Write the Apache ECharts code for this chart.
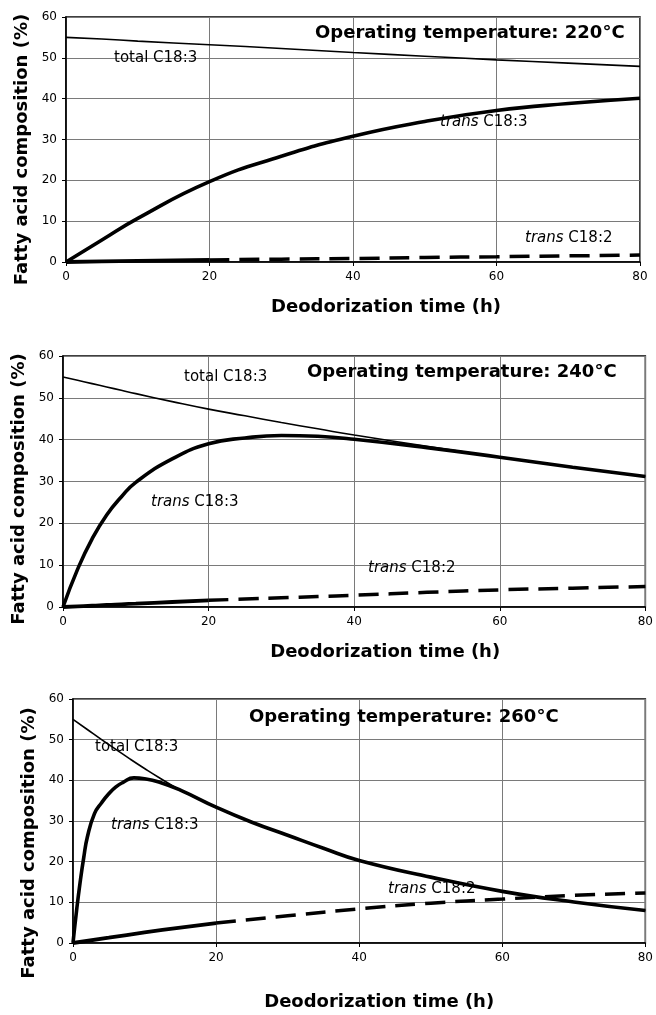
<!DOCTYPE html>
<html>
<head>
<meta charset="utf-8">
<script src="https://cdn.jsdelivr.net/npm/echarts@6/dist/echarts.min.js"></script>
<style>
  html, body { margin: 0; padding: 0; background: #fff; }
  #chart { width: 656px; height: 1015px; }
</style>
</head>
<body>
<div id="chart"></div>
<script>
// ---- data ----
const xTicks = [0, 20, 40, 60, 80];
const yTicks = [0, 10, 20, 30, 40, 50, 60];
const temps = ['220', '240', '260'];

// 220 °C
const hours220 = [0, 5, 10, 20, 30, 40, 50, 60, 70, 80];
const total183_220 = [55, 54.6, 54.1, 53.2, 52.3, 51.3, 50.4, 49.5, 48.7, 47.9];
const trans183_220 = [0, 5.4, 10.7, 19.7, 25.9, 30.8, 34.4, 37.1, 38.8, 40.1];
const trans182_220 = [0, 0.15, 0.3, 0.5, 0.7, 0.85, 1.1, 1.3, 1.5, 1.7];

// 240 °C
const hours240 = [0, 2, 4, 6, 8, 10, 15, 20, 25, 30, 35, 40, 50, 60, 70, 80];
const total183_240 = [55, 54.2, 53.4, 52.6, 51.8, 51.0, 49.1, 47.3, 45.7, 44.1, 42.6, 41.1, 38.4, 35.8, 33.4, 31.2];
const trans183_240 = [0, 9, 16.3, 22, 26.3, 29.8, 35.4, 39, 40.4, 41, 40.8, 40.1, 38.1, 35.8, 33.4, 31.2];
const trans182_240 = [0, 0.15, 0.3, 0.5, 0.65, 0.8, 1.2, 1.6, 1.9, 2.2, 2.5, 2.8, 3.5, 4.1, 4.5, 4.9];

// 260 °C
const hoursTotal260 = [0, 2, 4, 6, 8, 10, 12, 15, 20, 25, 30, 35, 40, 50, 60, 70, 80];
const total183_260 = [55, 52.5, 50, 47.6, 45.2, 42.9, 40.7, 37.6, 33.4, 29.7, 26.5, 23.3, 20.3, 16.2, 12.7, 10.1, 8];
const hoursTrans260 = [0, 0.5, 1, 1.5, 2, 3, 4, 5, 6, 7, 8.5, 10, 12, 15, 20, 25, 30, 35, 40, 50, 60, 70, 80];
const trans183_260 = [0, 8, 15, 21, 26, 31.8, 34.5, 36.7, 38.4, 39.5, 40.6, 40.4, 39.6, 37.6, 33.4, 29.7, 26.5, 23.3, 20.3, 16.2, 12.7, 10.1, 8];
const hours182_260 = [0, 5, 10, 15, 20, 30, 40, 50, 60, 70, 80];
const trans182_260 = [0, 1.3, 2.6, 3.8, 4.9, 6.7, 8.4, 9.8, 10.8, 11.7, 12.3];

const pairs = (xs, ys) => xs.map((x, i) => [x, ys[i]]);

const panelData = [
  { total: pairs(hours220, total183_220), t183: pairs(hours220, trans183_220), t182: pairs(hours220, trans182_220) },
  { total: pairs(hours240, total183_240), t183: pairs(hours240, trans183_240), t182: pairs(hours240, trans182_240) },
  { total: pairs(hoursTotal260, total183_260), t183: pairs(hoursTrans260, trans183_260), t182: pairs(hours182_260, trans182_260) }
];

// ---- layout ----
const FONT = 'DejaVu Sans';
const layout = [
  { grid: { left: 66, top: 17, width: 574, height: 245 }, xGap: 36, xPad: 66, yGap: 34, yPad: 20,
    title: [315, 33], total: [114, 58], t183: [440, 122], t182: [525, 238] },
  { grid: { left: 63, top: 356, width: 583, height: 251 }, xGap: 36, xPad: 62, yGap: 31, yPad: 15,
    title: [307, 372], total: [184, 377], t183: [151, 502], t182: [368, 568] },
  { grid: { left: 73, top: 699, width: 574, height: 244 }, xGap: 50, xPad: 40, yGap: 32, yPad: 44,
    title: [249, 717], total: [95, 747], t183: [111, 825], t182: [388, 889] }
];

const grids = [], xAxes = [], yAxes = [], series = [], graphics = [];

layout.forEach((L, i) => {
  grids.push(Object.assign({ show: true, borderColor: '#000', borderWidth: 1.5, backgroundColor: '#fff' }, L.grid));
  xAxes.push({
    type: 'value', gridIndex: i, min: xTicks[0], max: xTicks[xTicks.length - 1], interval: 20,
    name: 'Deodorization time (h)', nameLocation: 'middle', nameGap: L.xGap,
    nameTextStyle: { fontFamily: FONT, fontWeight: 'bold', fontSize: 18, color: '#000', padding: [0, 0, 0, L.xPad] },
    axisLine: { lineStyle: { color: '#000', width: 1.5 } },
    axisTick: { show: true, length: 4, lineStyle: { color: '#000' } },
    axisLabel: { fontFamily: FONT, fontSize: 12, color: '#000', margin: 9 },
    splitLine: { show: true, lineStyle: { color: '#7a7a7a', width: 1 } }
  });
  yAxes.push({
    type: 'value', gridIndex: i, min: yTicks[0], max: yTicks[yTicks.length - 1], interval: 10,
    name: 'Fatty acid composition (%)', nameLocation: 'middle', nameGap: L.yGap,
    nameTextStyle: { fontFamily: FONT, fontWeight: 'bold', fontSize: 18, color: '#000', padding: [0, L.yPad, 0, 0] },
    axisLine: { lineStyle: { color: '#000', width: 1.5 } },
    axisTick: { show: true, length: 4, lineStyle: { color: '#000' } },
    axisLabel: { fontFamily: FONT, fontSize: 12, color: '#000', margin: 9 },
    splitLine: { show: true, lineStyle: { color: '#7a7a7a', width: 1 } }
  });

  const d = panelData[i];
  const base = { type: 'line', xAxisIndex: i, yAxisIndex: i, showSymbol: false, symbol: 'none',
                 smooth: 0.5, animation: false };
  series.push(Object.assign({}, base, { name: 'total C18:3', data: d.total, z: 2,
    lineStyle: { color: '#000', width: 1.6 } }));
  series.push(Object.assign({}, base, { name: 'trans C18:2 (solid)', data: d.t182.filter(p => p[0] <= 20), z: 3,
    lineStyle: { color: '#000', width: 3.8 } }));
  series.push(Object.assign({}, base, { name: 'trans C18:2', data: d.t182.filter(p => p[0] >= 20), z: 3,
    lineStyle: { color: '#000', width: 3.5, type: [20, 10] } }));
  series.push(Object.assign({}, base, { name: 'trans C18:3', data: d.t183, z: 4,
    lineStyle: { color: '#000', width: 3.6 } }));

  graphics.push({ type: 'text', x: L.title[0], y: L.title[1], z: 10,
    style: { text: 'Operating temperature: ' + temps[i] + '°C', font: 'bold 18px "' + FONT + '"', fill: '#000', verticalAlign: 'middle' } });
  graphics.push({ type: 'text', x: L.total[0], y: L.total[1], z: 10,
    style: { text: 'total C18:3', font: '15px "' + FONT + '"', fill: '#000', verticalAlign: 'middle' } });
  [['t183', 'C18:3'], ['t182', 'C18:2']].forEach(([k, t]) => {
    graphics.push({ type: 'text', x: L[k][0], y: L[k][1], z: 10,
      style: { text: '{i|trans} ' + t, font: '15px "' + FONT + '"', fill: '#000', verticalAlign: 'middle',
        rich: { i: { fontStyle: 'italic', fontFamily: FONT, fontSize: 15, fill: '#000' } } } });
  });
});

const chart = echarts.init(document.getElementById('chart'), null, { renderer: 'canvas' });
chart.setOption({
  backgroundColor: '#fff',
  animation: false,
  grid: grids,
  xAxis: xAxes,
  yAxis: yAxes,
  series: series,
  graphic: graphics
});
</script>
</body>
</html>
